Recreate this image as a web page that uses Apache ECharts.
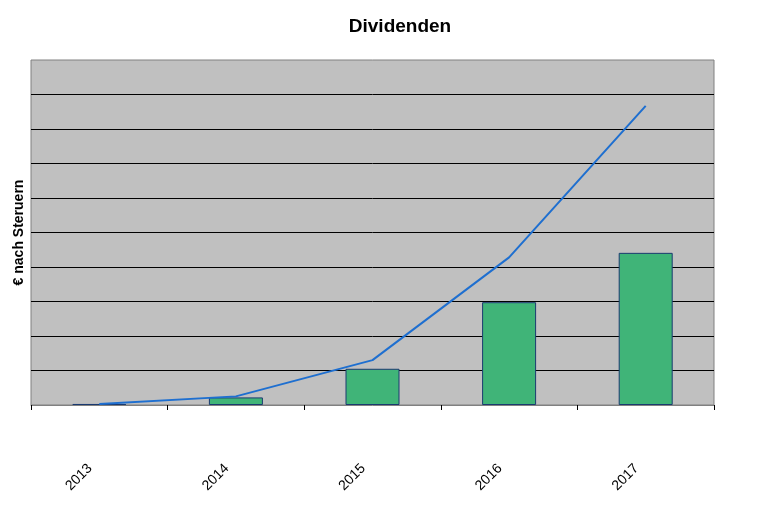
<!DOCTYPE html>
<html>
<head>
<meta charset="utf-8">
<script src="https://cdn.jsdelivr.net/npm/echarts@6/dist/echarts.min.js"></script>
<style>
html,body{margin:0;padding:0;background:#fff;}
#chart{width:770px;height:531px;}
</style>
</head>
<body>
<div id="chart"></div>
<script>
var categories = ['2013', '2014', '2015', '2016', '2017'];
var dividends = [0.03, 0.22, 1.05, 2.98, 4.41];
var cumulative = [0.03, 0.25, 1.30, 4.28, 8.67];

var chart = echarts.init(document.getElementById('chart'));
chart.setOption({
  animation: false,
  backgroundColor: '#ffffff',
  textStyle: { fontFamily: 'Liberation Sans, Arial, sans-serif' },
  title: {
    text: 'Dividenden',
    left: 395,
    textAlign: 'center',
    top: 12,
    textStyle: { fontSize: 19, fontWeight: 'bold', color: '#000', fontFamily: 'Liberation Sans, Arial, sans-serif' }
  },
  grid: {
    left: 31, right: 56, top: 60, bottom: 126,
    outerBoundsMode: 'none',
    containLabel: false,
    show: true,
    backgroundColor: '#c0c0c0',
    borderColor: '#808080',
    borderWidth: 1
  },
  xAxis: {
    type: 'category',
    data: categories,
    boundaryGap: true,
    axisLine: { show: true, lineStyle: { color: '#808080', width: 1 } },
    axisTick: { show: true, length: 5, lineStyle: { color: '#000' } },
    axisLabel: {
      rotate: 45,
      margin: 52,
      padding: [0, 13, 0, 0],
      fontSize: 14,
      color: '#000',
      fontFamily: 'Liberation Sans, Arial, sans-serif'
    }
  },
  yAxis: {
    type: 'value',
    min: 0,
    max: 10,
    interval: 1,
    name: '€ nach Steruern',
    nameLocation: 'middle',
    nameGap: 5,
    nameRotate: 90,
    nameTextStyle: { fontSize: 14, fontWeight: 'bold', color: '#000', fontFamily: 'Liberation Sans, Arial, sans-serif' },
    axisLine: { show: false },
    axisTick: { show: false },
    axisLabel: { show: false },
    splitLine: { show: true, showMinLine: false, showMaxLine: false, lineStyle: { color: '#000', width: 1 } }
  },
  series: [
    {
      type: 'bar',
      data: dividends,
      barWidth: 54,
      itemStyle: { color: '#40b478', borderColor: '#1a3a70', borderWidth: 1 }
    },
    {
      type: 'line',
      data: cumulative,
      symbol: 'none',
      lineStyle: { color: '#1e6fd0', width: 2 }
    }
  ]
});
</script>
</body>
</html>
